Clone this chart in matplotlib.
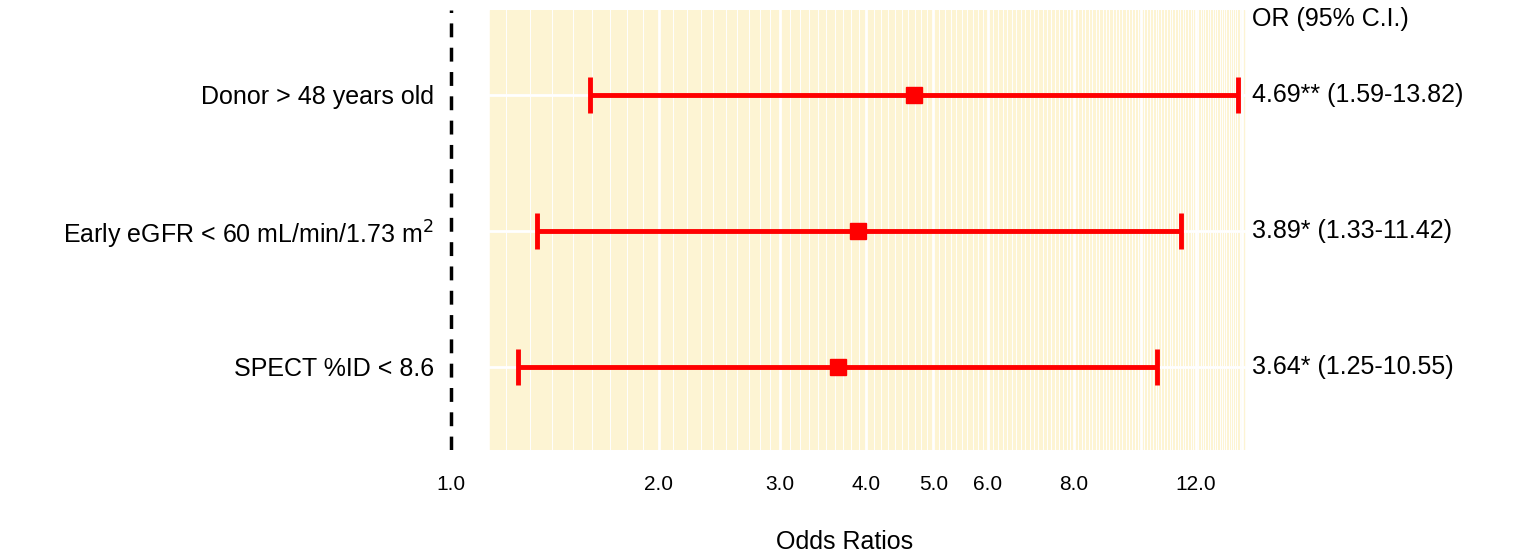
import numpy as np
import matplotlib.pyplot as plt

plt.rcParams['font.family'] = ['Liberation Sans', 'DejaVu Sans']

labels = ["Donor > 48 years old", "Early eGFR < 60 mL/min/1.73 m$^2$", "SPECT %ID < 8.6"]
odds = [4.69, 3.89, 3.64]
lower = [1.59, 1.33, 1.25]
upper = [13.82, 11.42, 10.55]
or_text = ["4.69** (1.59-13.82)", "3.89* (1.33-11.42)", "3.64* (1.25-10.55)"]
xticks = [1.0, 2.0, 3.0, 4.0, 5.0, 6.0, 8.0, 12.0]

fig = plt.figure(figsize=(15.24, 5.52), dpi=100)
ax = fig.add_axes([0.29, 0.185, 0.529, 0.797])
ax.set_xscale("log")
ax.set_xlim(0.97, 14.3)
ax.set_ylim(0.39, 3.625)

ax.axvspan(1.14, 14.1, color="#fdf4d3", zorder=0)
for v in np.arange(1.2, 14.1, 0.1):
    ax.axvline(v, color="white", lw=0.7, zorder=1)
for v in [2, 3, 4, 5, 6, 8, 10, 12, 14]:
    ax.axvline(v, color="white", lw=2, zorder=1)
ys = [3, 2, 1]
for y in ys:
    ax.plot([1.14, 14.1], [y, y], color="white", lw=2, zorder=1)

ax.axvline(1.0, color="black", lw=2.5, ls=(0, (4, 3)), zorder=2)

for y, o, lo, hi, t in zip(ys, odds, lower, upper, or_text):
    ax.errorbar(o, y, xerr=[[o - lo], [hi - o]], fmt="s", color="#ff0000",
                ms=12, lw=3.5, capsize=13, capthick=3.5, zorder=3)
    ax.text(1.005, y, t, transform=ax.get_yaxis_transform(), fontsize=18,
            va="center", ha="left")
ax.text(1.005, 3.56, "OR (95% C.I.)", transform=ax.get_yaxis_transform(),
        fontsize=18, va="center", ha="left")

ax.set_yticks(ys)
ax.set_yticklabels(labels, fontsize=18)
ax.set_xticks(xticks)
ax.set_xticklabels([f"{v:.1f}" for v in xticks], fontsize=15)
ax.minorticks_off()
ax.tick_params(length=0, pad=18)
ax.tick_params(axis="y", pad=6)
ax.set_xlabel("Odds Ratios", fontsize=18, labelpad=26)
for s in ax.spines.values():
    s.set_visible(False)

fig.savefig("out.png", dpi=100)
